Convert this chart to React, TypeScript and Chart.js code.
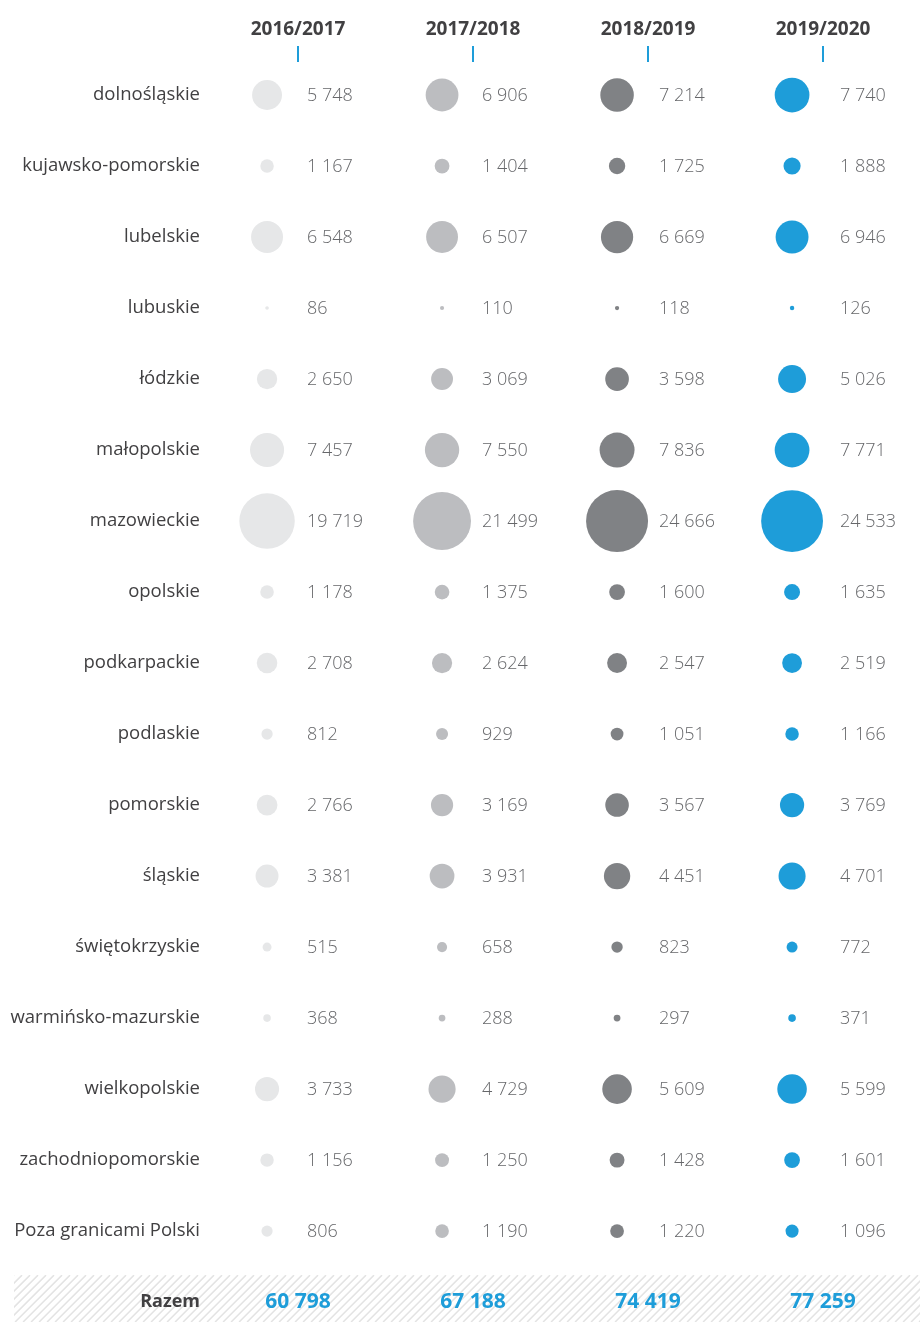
import React, { useEffect, useRef } from "react";
import { Chart, registerables } from "chart.js";

Chart.register(...registerables);

const regions = [
  "dolnośląskie",
  "kujawsko-pomorskie",
  "lubelskie",
  "lubuskie",
  "łódzkie",
  "małopolskie",
  "mazowieckie",
  "opolskie",
  "podkarpackie",
  "podlaskie",
  "pomorskie",
  "śląskie",
  "świętokrzyskie",
  "warmińsko-mazurskie",
  "wielkopolskie",
  "zachodniopomorskie",
  "Poza granicami Polski",
];
const totalLabel = "Razem";

const years = ["2016/2017", "2017/2018", "2018/2019", "2019/2020"];

const values2016 = [5748, 1167, 6548, 86, 2650, 7457, 19719, 1178, 2708, 812, 2766, 3381, 515, 368, 3733, 1156, 806];
const values2017 = [6906, 1404, 6507, 110, 3069, 7550, 21499, 1375, 2624, 929, 3169, 3931, 658, 288, 4729, 1250, 1190];
const values2018 = [7214, 1725, 6669, 118, 3598, 7836, 24666, 1600, 2547, 1051, 3567, 4451, 823, 297, 5609, 1428, 1220];
const values2019 = [7740, 1888, 6946, 126, 5026, 7771, 24533, 1635, 2519, 1166, 3769, 4701, 772, 371, 5599, 1601, 1096];

const totals = [60798, 67188, 74419, 77259];

const seriesValues = [values2016, values2017, values2018, values2019];
const colors = ["#e6e7e8", "#bcbdc0", "#808285", "#1e9dd9"];

const BLUE = "#1e9dd9";
const DARK = "#414042";
const GREY_TEXT = "#66676a";
const FONT = "'Open Sans', 'DejaVu Sans', sans-serif";

const fmt = (v: number) => String(v).replace(/\B(?=(\d{3})+(?!\d))/g, " ");

const RADIUS_K = 0.1974;
const HEADER_OFFSET = 0.177;
const LABEL_GAPS = [40, 40, 42, 48];

export default function App() {
  const ref = useRef<HTMLCanvasElement | null>(null);

  useEffect(() => {
    document.body.style.margin = "0";
    const canvas = ref.current;
    if (!canvas) return;

    const yLabels = [...regions, totalLabel];
    const totalIndex = regions.length;

    const datasets = seriesValues.map((vals, c) => ({
      label: years[c],
      data: vals.map((v, r) => ({ x: c, y: r, r: RADIUS_K * Math.sqrt(v), v })),
      backgroundColor: colors[c],
      borderWidth: 0,
      hoverRadius: 0,
    }));

    const decorPlugin = {
      id: "decor",
      beforeDraw(chart: any) {
        const { ctx, scales } = chart;
        const yS = scales.y;
        const cy = yS.getPixelForValue(totalIndex);
        const top = cy - 27;
        const bottom = chart.height;
        const left = 14;
        const right = chart.width;
        ctx.save();
        ctx.beginPath();
        ctx.rect(left, top, right - left, bottom - top);
        ctx.clip();
        ctx.strokeStyle = "#e3e3e3";
        ctx.lineWidth = 1.5;
        const h = bottom - top;
        for (let x = left - h; x < right + h; x += 8) {
          ctx.beginPath();
          ctx.moveTo(x, bottom);
          ctx.lineTo(x + h, top);
          ctx.stroke();
        }
        ctx.restore();
      },
      afterDatasetsDraw(chart: any) {
        const { ctx, scales } = chart;
        ctx.save();
        ctx.textBaseline = "middle";
        ctx.textAlign = "left";
        ctx.fillStyle = GREY_TEXT;
        ctx.font = `300 18px ${FONT}`;
        chart.data.datasets.forEach((ds: any, di: number) => {
          const meta = chart.getDatasetMeta(di);
          meta.data.forEach((el: any, i: number) => {
            ctx.fillText(fmt(ds.data[i].v), el.x + LABEL_GAPS[di], el.y + 1);
          });
        });
        const cy = scales.y.getPixelForValue(totalIndex);
        ctx.textAlign = "center";
        ctx.fillStyle = BLUE;
        ctx.font = `bold 21px ${FONT}`;
        totals.forEach((t, i) => {
          const x = scales.x.getPixelForValue(i + HEADER_OFFSET);
          ctx.fillText(fmt(t), x, cy);
        });
        ctx.restore();
      },
    };

    const chart = new Chart(canvas, {
      type: "bubble",
      data: { datasets },
      plugins: [decorPlugin],
      options: {
        animation: false,
        responsive: false,
        events: [],
        layout: { padding: 0, autoPadding: false },
        plugins: { legend: { display: false }, tooltip: { enabled: false } },
        scales: {
          x: {
            type: "linear",
            position: "top",
            min: -0.326,
            max: 3.731,
            afterBuildTicks: (scale: any) => {
              scale.ticks = years.map((_, i) => ({ value: i + HEADER_OFFSET }));
            },
            afterFit: (scale: any) => {
              scale.height = 62;
              scale.paddingLeft = 0;
              scale.paddingRight = 0;
            },
            ticks: {
              autoSkip: false,
              maxRotation: 0,
              padding: 5,
              color: DARK,
              font: { family: FONT, size: 19, weight: "bold" },
              callback: (_v: any, i: number) => years[i],
            },
            grid: {
              drawOnChartArea: false,
              drawTicks: true,
              tickLength: 16,
              color: BLUE,
              lineWidth: 2,
            },
            border: { display: false },
          },
          y: {
            type: "linear",
            reverse: true,
            min: -0.465,
            max: 17.28,
            afterBuildTicks: (scale: any) => {
              scale.ticks = yLabels.map((_, i) => ({ value: i }));
            },
            afterFit: (scale: any) => {
              scale.width = 210;
              scale.paddingTop = 0;
              scale.paddingBottom = 0;
            },
            ticks: {
              autoSkip: false,
              padding: 10,
              color: DARK,
              font: (ctx: any) =>
                ctx.tick && ctx.tick.value === totalIndex
                  ? { family: FONT, size: 18, weight: "bold" }
                  : { family: FONT, size: 18.5, weight: "normal" },
              callback: (v: any) => yLabels[Math.round(Number(v))],
            },
            grid: { display: false, drawTicks: false },
            border: { display: false },
          },
        },
      } as any,
    });

    return () => chart.destroy();
  }, []);

  return (
    <div style={{ width: 920, height: 1322 }}>
      <canvas ref={ref} width={920} height={1322} style={{ display: "block", width: 920, height: 1322 }} />
    </div>
  );
}
